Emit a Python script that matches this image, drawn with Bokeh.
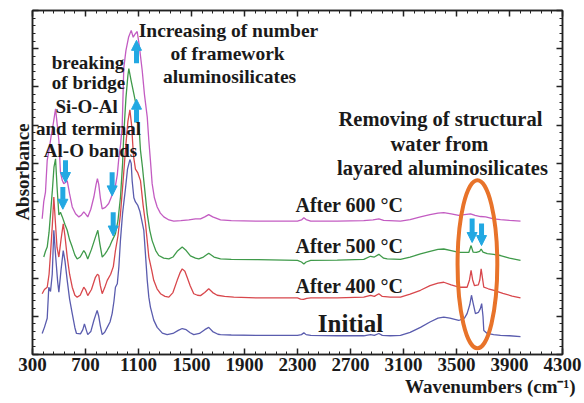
from bokeh.plotting import figure
from bokeh.models import (Range1d, LinearAxis, FixedTicker, CustomJSTickFormatter,
                          Label, Arrow, NormalHead, Title)
from bokeh.embed import file_html
from bokeh.resources import INLINE

# ---------------- data ----------------
wn_initial = [373, 390, 411, 423, 436, 449, 461, 474, 490, 499, 515, 532, 545, 562, 580, 600, 620, 632,
              662, 680, 692, 705, 717, 740, 763, 778, 788, 800, 812, 826, 845, 864, 885, 901, 915, 926,
              940, 952, 964, 980, 1002, 1017, 1035, 1045, 1052, 1065, 1077, 1095, 1110, 1125, 1140, 1153,
              1166, 1178, 1190, 1215, 1241, 1280, 1316, 1360, 1400, 1430, 1460, 1490, 1517, 1560, 1600,
              1630, 1660, 1700, 1719, 1800, 2000, 2200, 2300, 2330, 2348, 2365, 2400, 2600, 2800, 2851,
              2880, 2914, 2940, 3000, 3077, 3150, 3228, 3300, 3360, 3404, 3450, 3517, 3560, 3580, 3600,
              3613, 3625, 3643, 3665, 3680, 3690, 3700, 3706, 3732, 3780, 3832, 3900, 3983]
ab_initial = [0.55, 0.71, 0.95, 1.76, 1.65, 2.1, 3.25, 2.6, 1.9, 1.63, 2.2, 2.72, 2.45, 1.94, 1.45, 1.07, 0.7, 0.55,
              0.54, 0.65, 0.8, 0.65, 0.52, 0.6, 0.89, 1.05, 1.15, 1.0, 0.75, 0.52, 0.58, 0.71, 0.85, 1.07, 1.4, 1.76,
              1.85, 2.3, 3.0, 3.7, 4.35, 4.85, 5.1, 5.0, 4.55, 4.1, 3.99, 3.9, 3.75, 3.5, 3.25, 2.6,
              1.94, 1.5, 1.24, 0.9, 0.71, 0.56, 0.52, 0.55, 0.63, 0.68, 0.65, 0.57, 0.52, 0.55, 0.65,
              0.71, 0.6, 0.53, 0.52, 0.51, 0.5, 0.5, 0.5, 0.52, 0.57, 0.52, 0.5, 0.49, 0.49, 0.52,
              0.5, 0.55, 0.5, 0.49, 0.5, 0.58, 0.71, 0.85, 0.95, 0.98, 0.95, 0.89, 0.95, 1.07, 1.3,
              1.55, 1.35, 1.07, 1.1, 1.2, 1.33, 1.0, 0.63, 0.55, 0.52, 0.5, 0.49, 0.47]

wn_400 = [373, 390, 411, 425, 436, 450, 461, 472, 485, 499, 515, 532, 545, 562, 580, 600, 620, 637, 660,
          687, 700, 717, 745, 775, 790, 800, 812, 826, 845, 864, 890, 910, 926, 945, 964, 985, 1005, 1020,
          1035, 1048, 1062, 1077, 1095, 1115, 1135, 1153, 1178, 1200, 1215, 1240, 1266, 1300, 1329, 1360,
          1392, 1415, 1430, 1450, 1467, 1490, 1517, 1545, 1568, 1600, 1630, 1660, 1694, 1750, 1819, 2000,
          2200, 2300, 2323, 2345, 2370, 2400, 2600, 2800, 2851, 2880, 2914, 2940, 3000, 3077, 3150, 3228,
          3300, 3360, 3404, 3460, 3517, 3580, 3598, 3610, 3622, 3636, 3665, 3676, 3686, 3696, 3706, 3740,
          3783, 3850, 3920, 3983]
ab_400 = [1.59, 1.7, 1.76, 2.1, 2.64, 3.4, 4.12, 3.5, 2.8, 2.55, 3.0, 3.42, 3.1, 2.55, 2.1, 1.76, 1.55, 1.5, 1.55,
          1.76, 1.7, 1.54, 1.7, 2.02, 2.1, 2.07, 1.8, 1.59, 1.75, 1.94, 2.1, 2.3, 2.72, 3.1, 3.68, 4.6, 5.5, 6.1,
          6.4, 6.0, 5.2, 4.85, 4.75, 4.55, 3.9, 3.42, 2.55, 2.2, 1.94, 1.72, 1.59, 1.52, 1.5, 1.62,
          1.94, 2.15, 2.24, 2.18, 2.02, 1.8, 1.59, 1.55, 1.54, 1.62, 1.72, 1.62, 1.55, 1.52, 1.5, 1.48,
          1.48, 1.48, 1.45, 1.44, 1.47, 1.48, 1.48, 1.5, 1.55, 1.52, 1.59, 1.52, 1.5, 1.5, 1.58, 1.68,
          1.8, 1.87, 1.89, 1.82, 1.76, 1.76, 1.95, 2.2, 1.95, 1.8, 1.82, 1.95, 2.24, 2.0, 1.76, 1.72,
          1.68, 1.6, 1.53, 1.48]

wn_500 = [385, 398, 411, 425, 436, 450, 462, 474, 485, 499, 511, 525, 545, 562, 580, 600, 620, 637, 660,
          687, 700, 717, 745, 775, 793, 808, 826, 845, 864, 885, 901, 926, 945, 964, 980, 989, 1005, 1020,
          1027, 1045, 1065, 1090, 1105, 1115, 1130, 1140, 1166, 1185, 1203, 1230, 1253, 1290, 1329, 1360,
          1392, 1430, 1460, 1492, 1530, 1555, 1590, 1630, 1670, 1719, 1800, 2000, 2200, 2300, 2330, 2348,
          2365, 2400, 2600, 2800, 2851, 2880, 2914, 2950, 2977, 3077, 3150, 3228, 3300, 3360, 3404, 3460,
          3517, 3593, 3610, 3625, 3650, 3675, 3686, 3700, 3732, 3780, 3832, 3900, 3983]
ab_500 = [2.55, 2.7, 2.81, 3.2, 3.68, 4.3, 4.9, 5.12, 4.4, 3.65, 3.72, 3.6, 3.4, 3.25, 3.0, 2.81, 2.6, 2.5, 2.55,
          2.72, 2.65, 2.5, 2.75, 3.07, 3.25, 2.9, 2.55, 2.62, 2.72, 2.85, 2.98, 3.16, 3.5, 4.12, 5.0, 5.77, 6.7, 7.3,
          7.48, 7.15, 6.82, 6.39, 5.9, 5.34, 4.9, 4.55, 3.68, 3.25, 2.98, 2.72, 2.59, 2.52, 2.5, 2.55,
          2.7, 2.81, 2.72, 2.58, 2.52, 2.5, 2.55, 2.65, 2.55, 2.5, 2.49, 2.48, 2.47, 2.46, 2.42, 2.37,
          2.42, 2.46, 2.47, 2.49, 2.57, 2.55, 2.62, 2.52, 2.5, 2.49, 2.55, 2.63, 2.7, 2.75, 2.76, 2.72,
          2.67, 2.67, 2.85, 2.68, 2.67, 2.7, 2.76, 2.68, 2.64, 2.62, 2.59, 2.52, 2.46]

wn_600 = [373, 385, 398, 411, 425, 440, 455, 474, 487, 499, 511, 525, 536, 549, 562, 580, 600, 625, 650,
          670, 687, 700, 717, 740, 763, 780, 790, 800, 812, 826, 850, 875, 889, 910, 926, 940, 951, 965,
          977, 989, 1005, 1025, 1045, 1060, 1075, 1090, 1105, 1128, 1145, 1166, 1178, 1190, 1203, 1220,
          1241, 1265, 1291, 1330, 1366, 1420, 1480, 1530, 1568, 1600, 1630, 1660, 1719, 1800, 2000, 2096,
          2200, 2300, 2330, 2348, 2365, 2400, 2600, 2800, 2870, 2914, 2950, 3077, 3150, 3228, 3300, 3360,
          3404, 3460, 3517, 3560, 3606, 3640, 3681, 3720, 3780, 3832, 3900, 3983]
ab_600 = [3.55, 4.0, 4.25, 5.08, 5.35, 5.7, 6.0, 6.43, 6.0, 5.6, 4.77, 4.55, 4.47, 4.5, 4.55, 4.2, 3.86, 3.68, 3.6,
          3.65, 3.73, 3.68, 3.6, 3.8, 4.12, 4.45, 4.6, 4.45, 4.1, 3.81, 3.85, 3.95, 4.07, 4.25, 4.42, 4.7, 5.12, 5.5,
          5.99, 7.5, 7.95, 8.3, 8.48, 8.3, 8.39, 8.45, 8.1, 7.43, 6.8, 6.21, 5.6, 5.08, 4.47, 4.1,
          3.86, 3.7, 3.6, 3.52, 3.49, 3.5, 3.52, 3.55, 3.55, 3.6, 3.66, 3.6, 3.52, 3.5, 3.49, 3.49,
          3.49, 3.49, 3.52, 3.58, 3.53, 3.49, 3.49, 3.5, 3.52, 3.55, 3.51, 3.49, 3.53, 3.6, 3.66, 3.7,
          3.71, 3.68, 3.64, 3.66, 3.68, 3.64, 3.61, 3.6, 3.55, 3.53, 3.51, 3.49]

series = [
    ("Initial", wn_initial, ab_initial, "#5a5cae"),
    ("After 400 °C", wn_400, ab_400, "#d8474c"),
    ("After 500 °C", wn_500, ab_500, "#3f9a4a"),
    ("After 600 °C", wn_600, ab_600, "#c35cc2"),
]

x_ticks = [300, 700, 1100, 1500, 1900, 2300, 2700, 3100, 3500, 3900, 4300]
x_minor = [300 + 80 * i for i in range(51)]
y_ticks = list(range(0, 10))
y_minor = [round(0.2 * i, 2) for i in range(46)]

x_title = "Wavenumbers (cm⁻¹)"
y_title = "Absorbance"

# annotation texts (text, x, y, size)
notes = [
    ("Increasing of number", 1779, 8.48, "19.5px"),
    ("of framework", 1772, 7.88, "19.5px"),
    ("aluminosilicates", 1787, 7.27, "19.5px"),
    ("breaking", 719, 7.64, "19px"),
    ("of bridge", 723, 7.12, "19px"),
    ("Si-O-Al", 708, 6.49, "19px"),
    ("and terminal", 723, 5.91, "19px"),
    ("Al-O bands", 738, 5.34, "19px"),
    ("Removing of structural", 3379, 6.17, "20.5px"),
    ("water from", 3372, 5.52, "20.5px"),
    ("layared aluminosilicates", 3394, 4.89, "20.5px"),
    ("After 600 °C", 2692, 3.90, "20px"),
    ("After 500 °C", 2692, 2.85, "20px"),
    ("After 400 °C", 2692, 1.78, "20px"),
    ("Initial", 2700, 0.80, "25px"),
]

# arrows (x, y_tail, y_head)
arrows = [
    (1085, 7.62, 8.22), (1085, 6.07, 6.68),
    (549, 5.08, 4.50), (529, 4.38, 3.80),
    (901, 4.77, 4.15), (909, 3.72, 3.10),
    (3618, 3.56, 2.93), (3689, 3.43, 2.85),
]

# highlight ellipse
ell_x, ell_y, ell_w, ell_h = 3658, 2.36, 300, 4.4

FONT = "Liberation Serif"
TXT = "#1a1a1a"

p = figure(width=584, height=403, output_backend="svg", toolbar_location=None,
           x_range=Range1d(300, 4300), y_range=Range1d(0, 9), x_axis_location=None, y_axis_location=None)
p.min_border_left = 32
p.min_border_top = 10
p.min_border_right = 22
p.min_border_bottom = 49
p.grid.visible = False
p.outline_line_color = "#222222"
p.outline_line_width = 1.5
p.background_fill_color = "white"
p.border_fill_color = "white"

blank = CustomJSTickFormatter(code="return ''")

def mk_axis(ticks, minor, labels):
    ax = LinearAxis(ticker=FixedTicker(ticks=ticks, minor_ticks=minor))
    ax.axis_line_color = "#222222"
    ax.axis_line_width = 1.5
    ax.major_tick_in = 6
    ax.major_tick_out = 0
    ax.minor_tick_in = 3
    ax.minor_tick_out = 0
    ax.major_tick_line_color = "#222222"
    ax.major_tick_line_width = 1.5
    ax.minor_tick_line_color = "#222222"
    if labels:
        ax.major_label_text_font = FONT
        ax.major_label_text_font_style = "bold"
        ax.major_label_text_font_size = "19px"
        ax.major_label_text_color = TXT
        ax.major_label_standoff = 3
    else:
        ax.formatter = blank
        ax.major_label_standoff = 0
        ax.major_label_text_font_size = "1px"
    return ax

p.add_layout(mk_axis(x_ticks, x_minor, True), "below")
p.add_layout(mk_axis(x_ticks, x_minor, False), "above")
p.add_layout(mk_axis(y_ticks, y_minor, False), "left")
p.add_layout(mk_axis(y_ticks, y_minor, False), "right")

p.add_layout(Title(text=x_title, align="right", offset=-13, standoff=0, text_font=FONT,
                   text_font_style="bold", text_font_size="19px", text_color=TXT), "below")
p.add_layout(Title(text=y_title, align="right", offset=113, standoff=0, text_font=FONT,
                   text_font_style="bold", text_font_size="19px", text_color=TXT), "left")

for name, xs, ys, col in series:
    p.line(xs, ys, line_color=col, line_width=1.3)

p.ellipse(x=[ell_x], y=[ell_y], width=[ell_w], height=[ell_h], fill_color=None,
          line_color="#e8732a", line_width=4)

ARROW = "#22a8e2"
for ax_, y0, y1 in arrows:
    p.add_layout(Arrow(x_start=ax_, y_start=y0, x_end=ax_, y_end=y1, line_color=ARROW, line_width=5,
                       end=NormalHead(size=10, fill_color=ARROW, line_color=ARROW, line_width=1)))

for t, x, y, s in notes:
    p.add_layout(Label(x=x, y=y, text=t, text_font=FONT, text_font_style="bold", text_font_size=s,
                       text_color=TXT, text_align="center", text_baseline="middle"))

open("out.html", "w").write(file_html(p, INLINE))
